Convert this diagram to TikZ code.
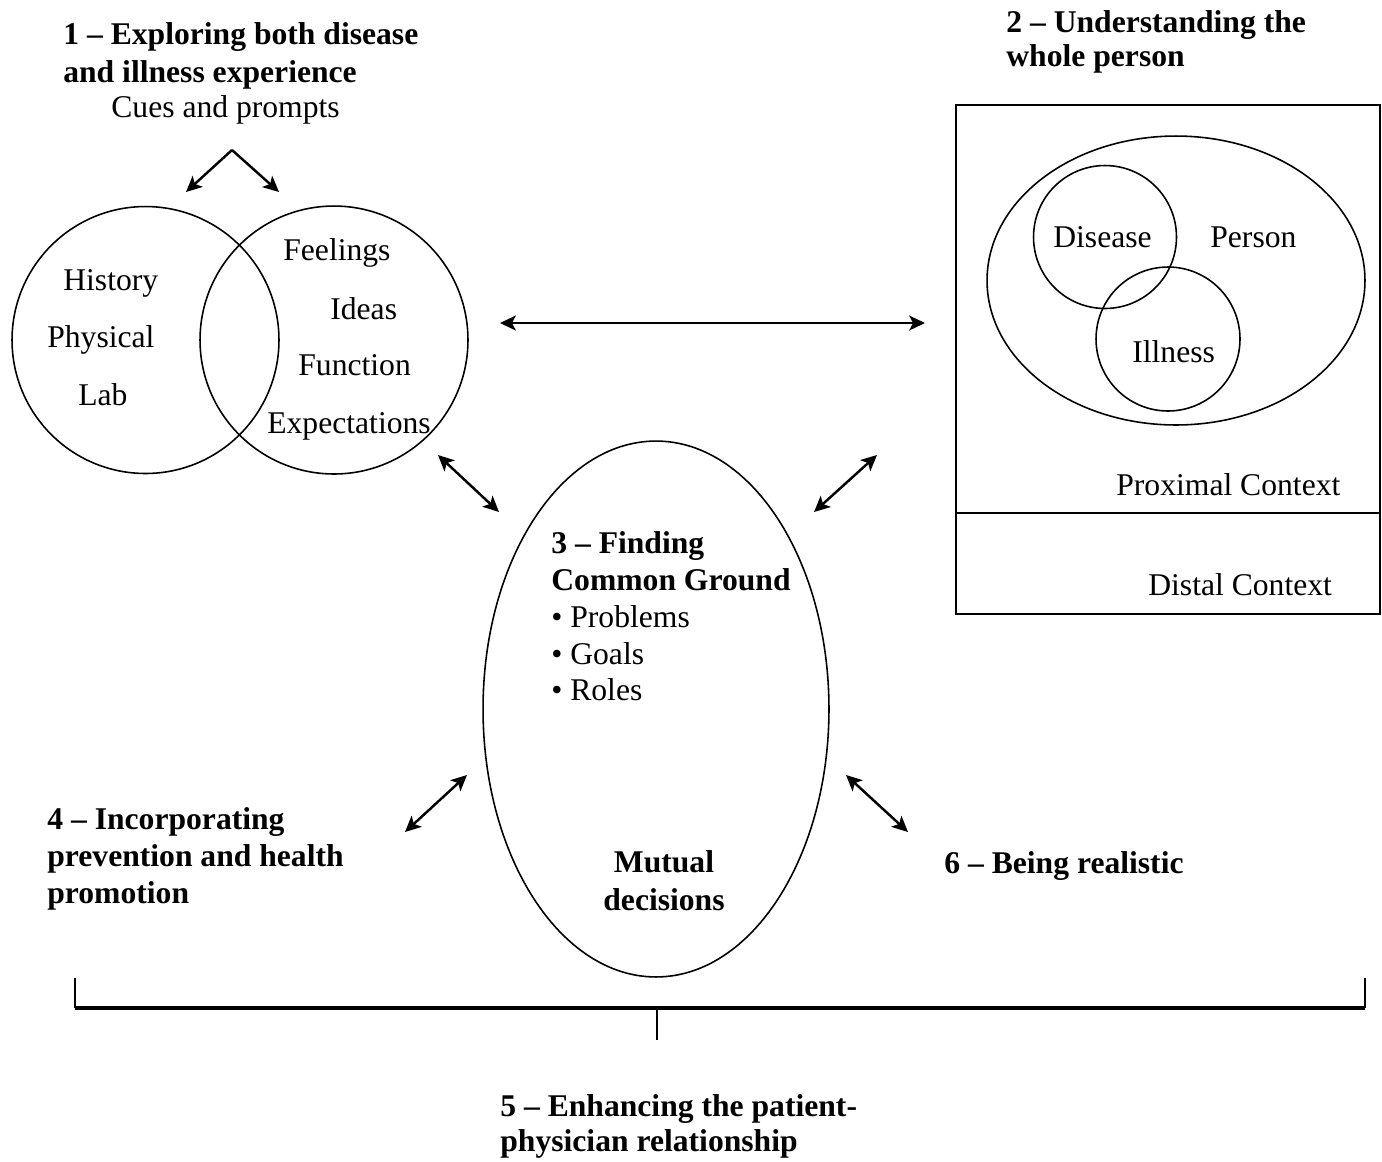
\documentclass[tikz,border=0pt]{standalone}
\usepackage{fontspec}
\setmainfont{Liberation Serif}
\usetikzlibrary{arrows.meta,shapes.geometric,positioning}

\begin{document}
\begin{tikzpicture}[x=0.02cm,y=-0.02cm,>={Stealth[length=9pt,width=8.5pt,inset=2.2pt]}]
    \tikzstyle{txt}=[inner sep=0pt,anchor=base west,font=\fontsize{18}{21.3}\selectfont]
    \tikzstyle{head}=[inner sep=0pt,anchor=north west,align=left,font=\fontsize{18}{21.6}\selectfont\bfseries]
    \tikzstyle{ring}=[draw=black,line width=0.9pt,inner sep=0pt,circle]
    \tikzstyle{oval}=[draw=black,line width=0.9pt,inner sep=0pt,ellipse]
    \tikzstyle{link}=[<->,line width=1.4pt]

    \useasboundingbox (0,0) rectangle (1382,1161);

    % 1 - disease and illness
    \node[head](explore) at (63,22) {1 -- Exploring both disease\\and illness experience};
    \node[txt](cues) at (111,117) {Cues and prompts};
    \node[ring,minimum size=5.34cm](disease) at (145.5,340) {};
    \node[ring,minimum size=5.36cm](illness) at (334,340) {};
    \node[txt](history) at (63,290) {History};
    \node[txt](physical) at (47,347) {Physical};
    \node[txt](lab) at (78,405) {Lab};
    \node[txt](feelings) at (283,260) {Feelings};
    \node[txt](ideas) at (330,319) {Ideas};
    \node[txt](function) at (298,375) {Function};
    \node[txt](expect) at (267,433) {Expectations};

    % 2 - whole person
    \node[head,font=\fontsize{18}{19.5}\selectfont\bfseries](whole) at (1006,10) {2 -- Understanding the\\whole person};
    \node[draw=black,line width=0.9pt,minimum width=8.48cm,minimum height=10.18cm,inner sep=0pt](context) at (1168,359.5) {};
    \coordinate (split) at (0,513);
    \draw[line width=0.9pt] (context.west |- split) -- (context.east |- split);
    \node[oval,minimum width=7.56cm,minimum height=5.78cm](person) at (1176,280.5) {};
    \node[ring,minimum size=2.86cm](pdisease) at (1105,237) {};
    \node[ring,minimum size=2.88cm](pillness) at (1168,339) {};
    \node[txt](ldisease) at (1053,247) {Disease};
    \node[txt](lperson) at (1210,247) {Person};
    \node[txt](lillness) at (1132,362) {Illness};
    \node[txt](proximal) at (1116,495) {Proximal Context};
    \node[txt](distal) at (1148,595) {Distal Context};

    % 3 - common ground
    \node[oval,minimum width=6.92cm,minimum height=10.72cm](ground) at (656,709) {};
    \node[head,font=\fontsize{18}{21}\selectfont](finding) at (551,531)
      {\textbf{3 -- Finding}\\\textbf{Common Ground}\\• Problems\\• Goals\\• Roles};
    \node[head,align=center,anchor=north](mutual) at (664,850) {Mutual\\decisions};

    % 4, 6 and 5
    \node[head,font=\fontsize{18}{21}\selectfont\bfseries](prevent) at (47,807) {4 -- Incorporating\\prevention and health\\promotion};
    \node[head](realistic) at (944,851) {6 -- Being realistic};
    \node[head,font=\fontsize{18}{20}\selectfont\bfseries](relation) at (500,1094) {5 -- Enhancing the patient-\\physician relationship};

    % arrows
    \coordinate (apex) at (232,150);
    \coordinate (cuel) at (186,192);
    \coordinate (cuer) at (279,192);
    \draw[->,line width=1.4pt] (apex) -- (cuel);
    \draw[->,line width=1.4pt] (apex) -- (cuer);

    \coordinate (mida) at (500,323);
    \coordinate (midb) at (925,323);
    \draw[link] (mida) -- (midb);

    \coordinate (ula) at (438,455);
    \coordinate (ulb) at (499,512);
    \coordinate (ura) at (877,455);
    \coordinate (urb) at (814,512);
    \coordinate (lla) at (467,775);
    \coordinate (llb) at (405,832);
    \coordinate (lra) at (846,775);
    \coordinate (lrb) at (908,832);
    \draw[link] (ula) -- (ulb);
    \draw[link] (ura) -- (urb);
    \draw[link] (lla) -- (llb);
    \draw[link] (lra) -- (lrb);

    % bracket
    \coordinate (brl) at (75,1008);
    \coordinate (brr) at (1365,1008);
    \coordinate (brm) at (657,1008);
    \draw[line width=0.8pt] (brl) -- ++(0,-30);
    \draw[line width=0.8pt] (brr) -- ++(0,-30);
    \draw[line width=2pt] (brl) -- (brr);
    \draw[line width=0.8pt] (brm) -- ++(0,32);
  \end{tikzpicture}
\end{document}
